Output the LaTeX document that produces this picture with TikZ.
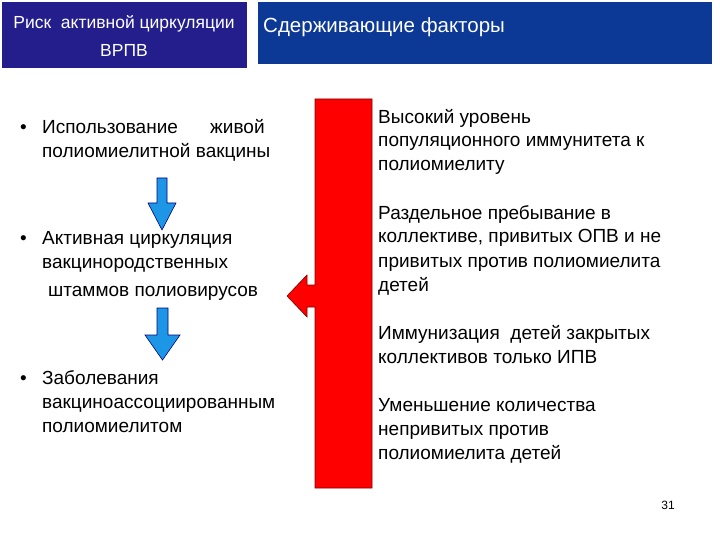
\documentclass[tikz,border=0pt]{standalone}
\usepackage{fontspec}
\setmainfont{Liberation Sans}
\begin{document}
\begin{tikzpicture}[x=1pt,y=-1pt,
 txt/.style={anchor=base west,inner sep=0pt,font=\fontsize{19}{20}\selectfont},
 blue/.style={fill={rgb,255:red,30;green,150;blue,230},draw=blue!50!black,line width=0.6pt},
 hdr/.style={text=white,inner sep=0pt,anchor=base}]
\useasboundingbox (0,0) rectangle (720,540);
\fill[white] (0,0) rectangle (720,540);
\node[fill={rgb,255:red,35;green,30;blue,140},minimum width=245pt,minimum height=66pt,anchor=north west,inner sep=0pt] (h1) at (2,2) {};
\node[fill={rgb,255:red,12;green,56;blue,150},minimum width=454pt,minimum height=62pt,anchor=north west,inner sep=0pt] (h2) at (258,2) {};
\node[hdr,font=\fontsize{17.5}{19}\selectfont] (h1a) at (124,29) {Риск\ \ активной циркуляции};
\node[hdr,font=\fontsize{17.5}{19}\selectfont] (h1b) at (124,57) {ВРПВ};
\node[hdr,anchor=base west,font=\fontsize{20.5}{22}\selectfont] (h2a) at (263,33) {Сдерживающие факторы};
% left
\node[txt] (b1) at (20,134) {•};
\node[txt] (l1) at (42,134) {Использование\hspace{1.7em}живой};
\node[txt] (l2) at (42,158) {полиомиелитной вакцины};
\node[txt] (b2) at (20,244) {•};
\node[txt] (l3) at (42,244) {Активная циркуляция};
\node[txt] (l4) at (42,268) {вакцинородственных};
\node[txt] (l5) at (48,296) {штаммов полиовирусов};
\node[txt] (b3) at (20,384) {•};
\node[txt] (l6) at (42,384) {Заболевания};
\node[txt] (l7) at (42,408) {вакциноассоциированным};
\node[txt] (l8) at (42,432) {полиомиелитом};
% blue arrows
\draw[blue] (157,178) -- (167,178) -- (167,203) -- (176,203) -- (162,230) -- (148,203) -- (157,203) -- cycle;
\draw[blue] (157,308) -- (168,308) -- (168,335) -- (180,335) -- (162.5,360) -- (145,335) -- (157,335) -- cycle;
% red
\draw[fill=red,draw=red!50!black,line width=0.6pt] (315,99) -- (372,99) -- (372,488) -- (315,488) -- (315,307) -- (307,307) -- (307,317) -- (287,296) -- (307,275) -- (307,285) -- (315,285) -- cycle;
% right
\node[txt] (r1) at (378,124) {Высокий уровень};
\node[txt] (r2) at (378,147) {популяционного иммунитета к};
\node[txt] (r3) at (378,171) {полиомиелиту};
\node[txt] (r4) at (378,219) {Раздельное пребывание в};
\node[txt] (r5) at (378,243) {коллективе, привитых ОПВ и не};
\node[txt] (r6) at (378,267) {привитых против полиомиелита};
\node[txt] (r7) at (378,291) {детей};
\node[txt] (r8) at (378,339) {Иммунизация\ \ детей закрытых};
\node[txt] (r9) at (378,363) {коллективов только ИПВ};
\node[txt] (r10) at (378,411) {Уменьшение количества};
\node[txt] (r11) at (378,435) {непривитых против};
\node[txt] (r12) at (378,459) {полиомиелита детей};
\node[inner sep=0pt,font=\fontsize{12}{13}\selectfont] (n) at (668,505) {31};
\end{tikzpicture}
\end{document}
